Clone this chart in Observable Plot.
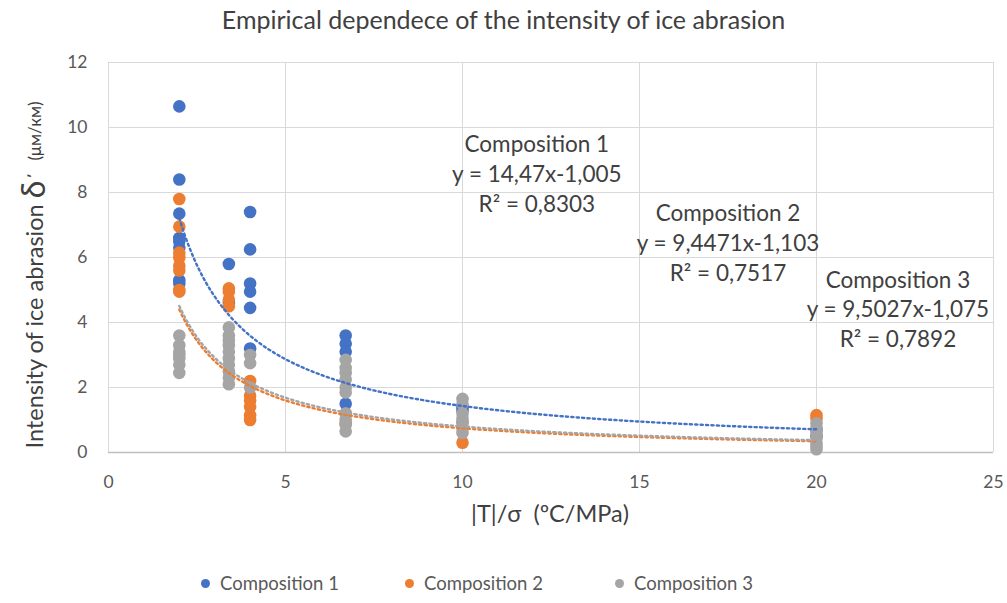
<!DOCTYPE html>
<html>
<head>
<meta charset="utf-8">
<script src="https://cdn.jsdelivr.net/npm/d3@7"></script>
<script src="https://cdn.jsdelivr.net/npm/@observablehq/plot@0.6"></script>
<style>
  body { margin: 0; background: #fff; font-family: Lato, "Open Sans", sans-serif; }
  #wrap { position: relative; width: 1007px; height: 603px; overflow: hidden; background: #fff; }
  #title { height: 36px; line-height: 38px; text-align: center; font-size: 25px; color: #404040; }
  #chart svg { display: block; }
  #legend { position: relative; height: 40px; }
  .item { position: absolute; top: 0; height: 40px; display: flex; align-items: center; font-size: 18.5px; color: #595959; white-space: nowrap; }
  .sw { width: 9px; height: 9px; border-radius: 50%; margin-right: 10px; }
</style>
</head>
<body>
<div id="wrap">
  <div id="title">Empirical dependece of the intensity of ice abrasion</div>
  <div id="chart"></div>
  <div id="legend"></div>
</div>
<script>
// Ratio |T|/σ at which the samples were tested
const xLevels = [2, 3.4, 4, 6.7, 10, 20];

// Measured abrasion intensity, one list per xLevels entry
const comp1Values = [
  [10.65, 8.4, 7.35, 6.6, 6.5, 6.3, 5.3, 5.2],
  [5.8, 4.6],
  [7.4, 6.25, 5.2, 4.95, 4.45, 3.2],
  [3.6, 3.35, 3.1, 1.5],
  [1.4, 1.3],
  [0.7, 0.5]
];
const comp2Values = [
  [7.8, 6.95, 6.15, 6.0, 5.75, 5.6, 5.0, 4.95],
  [5.05, 4.95, 4.7, 4.5],
  [2.2, 1.75, 1.6, 1.4, 1.15, 1.0],
  [1.2, 0.9],
  [0.95, 0.3],
  [1.15, 1.05]
];
const comp3Values = [
  [3.6, 3.3, 3.1, 3.0, 2.9, 2.7, 2.45],
  [3.85, 3.6, 3.45, 3.3, 3.1, 2.9, 2.7, 2.5, 2.3, 2.1],
  [3.0, 2.75, 2.0],
  [2.85, 2.6, 2.45, 2.25, 2.0, 1.85, 1.2, 1.0, 0.85, 0.65],
  [1.65, 1.5, 1.2, 1.05, 0.9, 0.75, 0.6],
  [0.9, 0.75, 0.6, 0.45, 0.3, 0.2, 0.1]
];

const seriesNames = ["Composition 1", "Composition 2", "Composition 3"];
const seriesColors = ["#4472C4", "#ED7D31", "#A5A5A5"];

// Power trend lines y = a·x^b with their R²
const trendA = [14.47, 9.4471, 9.5027];
const trendB = [-1.005, -1.103, -1.075];
const trendR2 = [0.8303, 0.7517, 0.7892];

// Where each trend-line caption sits (data units, middle line)
const captionX = [12.1, 17.5, 22.3];
const captionY = [8.62, 6.5, 4.45];

const xTicks = [0, 5, 10, 15, 20, 25];
const yTicks = [0, 2, 4, 6, 8, 10, 12];

const comma = v => String(v).replace(".", ",");

const points = [comp1Values, comp2Values, comp3Values].flatMap((groups, s) =>
  groups.flatMap((ys, i) => ys.map(y => ({x: xLevels[i], y, series: seriesNames[s]})))
);

const xMin = d3.min(xLevels), xMax = d3.max(xLevels);
const curves = seriesNames.flatMap((name, s) =>
  d3.range(xMin, xMax + 0.001, 0.05).map(x => ({x, y: trendA[s] * Math.pow(x, trendB[s]), series: name}))
);

const captions = seriesNames.map((name, s) => ({
  x: captionX[s],
  y: captionY[s],
  text: `${name}\ny = ${comma(trendA[s])}x${comma(trendB[s])}\nR² = ${comma(trendR2[s])}`
}));

const chart = Plot.plot({
  width: 1007,
  height: 527,
  marginTop: 26,
  marginBottom: 111,
  marginLeft: 108,
  marginRight: 14,
  style: {fontFamily: "Lato, 'Open Sans', sans-serif", background: "#fff"},
  x: {domain: [0, 25]},
  y: {domain: [0, 12]},
  color: {domain: seriesNames, range: seriesColors},
  marks: [
    Plot.gridX(xTicks, {stroke: "#d9d9d9", strokeOpacity: 1, strokeWidth: 1}),
    Plot.gridY(yTicks, {stroke: "#d9d9d9", strokeOpacity: 1, strokeWidth: 1}),
    Plot.ruleY([0], {stroke: "#bfbfbf", strokeWidth: 1.3}),
    Plot.axisX(xTicks, {tickSize: 0, tickPadding: 23, fontSize: 17.5, fill: "#595959", label: null}),
    Plot.axisY(yTicks, {tickSize: 0, tickPadding: 21, fontSize: 17.5, fill: "#595959", label: null}),
    Plot.dot(points, {x: "x", y: "y", fill: "series", r: 6.3, stroke: "none"}),
    Plot.line(curves, {x: "x", y: "y", z: "series", stroke: "series", strokeWidth: 2.4, strokeDasharray: "2.2,3.2"}),
    Plot.text(captions, {x: "x", y: "y", text: "text", fontSize: 22.5, lineHeight: 1.33, fill: "#404040", textAnchor: "middle"})
  ]
});
document.getElementById("chart").appendChild(chart);

// Axis titles with mixed type sizes
const svg = d3.select(chart);
const yTitle = svg.append("text")
  .attr("transform", "translate(37,239) rotate(-90)")
  .attr("text-anchor", "middle")
  .attr("dominant-baseline", "middle")
  .attr("fill", "#404040")
  .style("font-family", "Lato, 'Open Sans', sans-serif");
yTitle.append("tspan").attr("font-size", 23.5).text("Intensity of ice abrasion ");
yTitle.append("tspan").attr("font-size", 32).text("δ");
yTitle.append("tspan").attr("font-size", 22).text("΄\u00a0\u00a0");
yTitle.append("tspan").attr("font-size", 17).text("(μм/км)");

svg.append("text")
  .attr("x", 550)
  .attr("y", 480)
  .attr("text-anchor", "middle")
  .attr("dominant-baseline", "middle")
  .attr("fill", "#404040")
  .attr("font-size", 23.5)
  .style("font-family", "Lato, 'Open Sans', sans-serif")
  .text("|T|/σ\u00a0\u00a0(ºC/MPa)");

// Legend below the chart
const legendLeft = [201, 405, 615];
const legend = d3.select("#legend");
seriesNames.forEach((name, i) => {
  const item = legend.append("div").attr("class", "item").style("left", legendLeft[i] + "px");
  item.append("span").attr("class", "sw").style("background", seriesColors[i]);
  item.append("span").text(name);
});
</script>
</body>
</html>
